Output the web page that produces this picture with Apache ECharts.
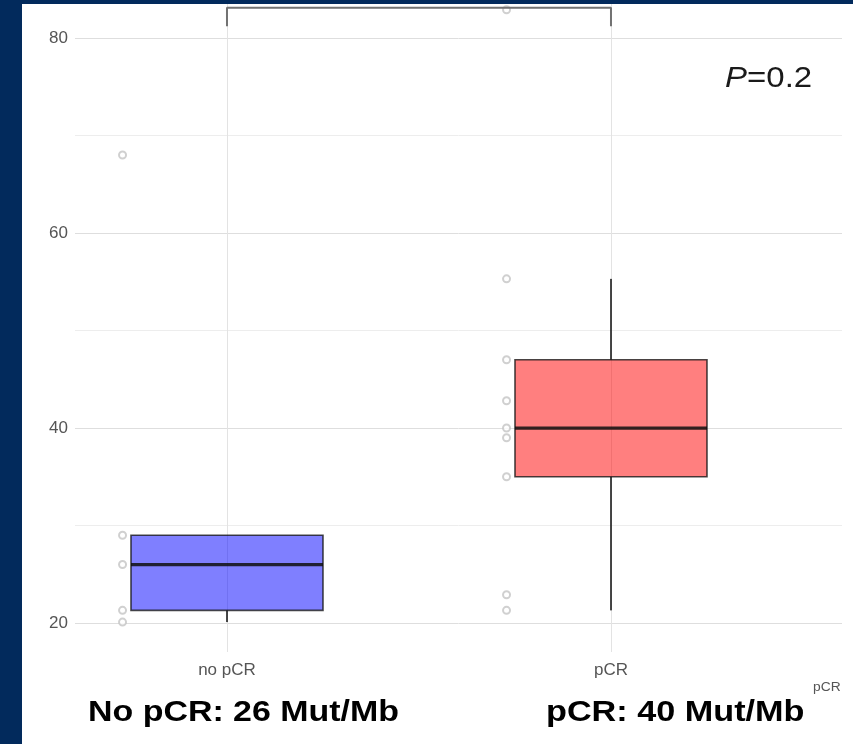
<!DOCTYPE html>
<html>
<head>
<meta charset="utf-8">
<script src="https://cdn.jsdelivr.net/npm/echarts@6/dist/echarts.min.js"></script>
<style>
html,body{margin:0;padding:0;background:#022a5c;width:853px;height:744px;overflow:hidden;}
#panel{position:absolute;left:22px;top:4px;width:831px;height:740px;background:#ffffff;}
#chart{position:absolute;left:0;top:0;width:853px;height:744px;}
</style>
</head>
<body>
<div id="panel"></div>
<div id="chart"></div>
<script>
// ---- data ----
const categories = ['no pCR', 'pCR'];
const categoryPos = [1, 2];
// box statistics: [low whisker, Q1, median, Q3, high whisker]
const boxNoPCR = [20.1, 21.3, 26, 29, 29];
const boxPCR = [21.3, 35, 40, 47, 55.3];
// individual observations
const pointsNoPCR = [68, 29, 26, 21.3, 20.1];
const pointsPCR = [82.9, 55.3, 47, 42.8, 40, 39, 35, 22.9, 21.3];
const yTickLabels = [20, 40, 60, 80];
const yGridValues = [20, 30, 40, 50, 60, 70, 80];
const bracketTop = 83.1;
const bracketDrop = 81.2;
const pValueText = '0.2';
const summaryTexts = ['No pCR: 26 Mut/Mb', 'pCR: 40 Mut/Mb'];

// ---- build ----
const boxColors = ['rgba(0,0,255,0.5)', 'rgba(255,0,0,0.5)'];
const boxes = [boxNoPCR, boxPCR];
const boxData = boxes.map((b, i) => [categoryPos[i], ...b, i]);
const pointOffset = -0.272;
const scatterData = [];
pointsNoPCR.forEach(v => scatterData.push([categoryPos[0] + pointOffset, v]));
pointsPCR.forEach(v => scatterData.push([categoryPos[1] + pointOffset, v]));
const bracketData = [[categoryPos[0], bracketDrop], [categoryPos[0], bracketTop], [categoryPos[1], bracketTop], [categoryPos[1], bracketDrop]];

const chart = echarts.init(document.getElementById('chart'), null, {renderer: 'canvas'});
const option = {
  backgroundColor: 'transparent',
  animation: false,
  grid: {left: 75, right: 11, top: 4, bottom: 92, containLabel: false},
  xAxis: {
    type: 'value', min: 0.6042, max: 2.6016,
    axisLine: {show: false},
    axisTick: {show: false, customValues: categoryPos},
    axisLabel: {
      customValues: categoryPos, margin: 10,
      formatter: v => categories[categoryPos.indexOf(v)] || '',
      color: '#555555', fontSize: 17, fontFamily: 'Liberation Sans, Arial, sans-serif'
    },
    splitLine: {show: true, lineStyle: {color: '#e3e3e3', width: 1}}
  },
  yAxis: {
    type: 'value', min: 17.03, max: 83.49,
    axisLine: {show: false},
    axisTick: {show: false, customValues: yGridValues},
    axisLabel: {
      customValues: yTickLabels, margin: 7,
      color: '#555555', fontSize: 17, fontFamily: 'Liberation Sans, Arial, sans-serif'
    },
    splitLine: {show: true, lineStyle: {color: ['#dedede', '#ededed'], width: 1}}
  },
  series: [
    {
      type: 'scatter', data: scatterData, symbol: 'emptyCircle', symbolSize: 7,
      itemStyle: {color: '#c4c4c4', borderWidth: 1.2}, z: 3
    },
    {
      type: 'custom', z: 4,
      data: boxData,
      encode: {x: 0, y: [1, 2, 3, 4, 5]},
      renderItem: function (params, api) {
        const x = api.value(0);
        const low = api.coord([x, api.value(1)]);
        const q1 = api.coord([x, api.value(2)]);
        const med = api.coord([x, api.value(3)]);
        const q3 = api.coord([x, api.value(4)]);
        const high = api.coord([x, api.value(5)]);
        const half = api.size([0.5, 0])[0] / 2;
        const idx = api.value(6);
        const lineCol = 'rgba(20,20,20,0.78)';
        return {
          type: 'group',
          children: [
            {type: 'line', shape: {x1: q3[0], y1: q3[1], x2: high[0], y2: high[1]}, style: {stroke: lineCol, lineWidth: 2}},
            {type: 'line', shape: {x1: q1[0], y1: q1[1], x2: low[0], y2: low[1]}, style: {stroke: lineCol, lineWidth: 2}},
            {type: 'rect', shape: {x: q3[0] - half, y: q3[1], width: half * 2, height: q1[1] - q3[1]},
              style: {fill: boxColors[idx], stroke: lineCol, lineWidth: 1.6}},
            {type: 'line', shape: {x1: med[0] - half, y1: med[1], x2: med[0] + half, y2: med[1]}, style: {stroke: 'rgba(15,15,15,0.85)', lineWidth: 3.2}}
          ]
        };
      }
    },
    {
      type: 'line', data: bracketData, symbol: 'none', z: 5,
      lineStyle: {color: '#727272', width: 2}
    }
  ],
  graphic: [
    {
      type: 'text', x: 725, y: 79,
      style: {
        text: '{i|P}=' + pValueText,
        font: '30px "Liberation Sans", Arial, sans-serif',
        fill: '#1a1a1a', verticalAlign: 'middle', align: 'left',
        rich: {i: {fontStyle: 'italic', fontSize: 30, fontFamily: 'Liberation Sans', fill: '#1a1a1a'}}
      },
      scaleX: 1.1
    },
    {
      type: 'text', x: 88, y: 713, scaleX: 1.17,
      style: {text: summaryTexts[0], font: 'bold 29px "Liberation Sans", Arial, sans-serif', fill: '#000000', verticalAlign: 'middle', align: 'left'}
    },
    {
      type: 'text', x: 546, y: 713, scaleX: 1.18,
      style: {text: summaryTexts[1], font: 'bold 29px "Liberation Sans", Arial, sans-serif', fill: '#000000', verticalAlign: 'middle', align: 'left'}
    },
    {
      type: 'text', x: 813, y: 688, scaleX: 1.15,
      style: {text: categories[1], font: '12px "Liberation Sans", Arial, sans-serif', fill: '#555555', verticalAlign: 'middle', align: 'left'}
    }
  ]
};
chart.setOption(option);
</script>
</body>
</html>
